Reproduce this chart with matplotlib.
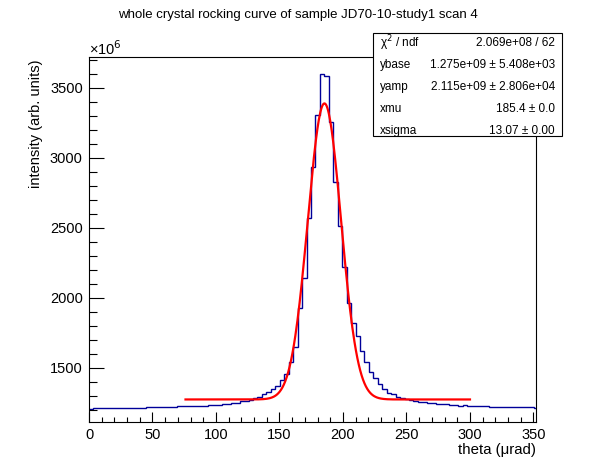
import numpy as np
import matplotlib
matplotlib.use("Agg")
import matplotlib.pyplot as plt
from matplotlib.ticker import MultipleLocator

plt.rcParams['font.family'] = ['Liberation Sans', 'DejaVu Sans']

# histogram binning (theta in urad): a short first bin, then 3.51 urad steps
bin_edges = np.r_[0.0, np.arange(2.8, 351.0, 3.51), 352.0]

# intensity per bin, in units of 1e6
intensity = [
    1205,
    1216, 1216, 1216, 1216, 1216, 1216, 1216, 1216, 1216, 1216, 1216, 1216,
    1223, 1223, 1223, 1223, 1223, 1223, 1223,
    1231,
    1226, 1226, 1226, 1226, 1226, 1226,
    1233, 1233, 1233,
    1243, 1243, 1248, 1252, 1262, 1265, 1271, 1283, 1295, 1312,
    1331, 1348, 1373, 1414, 1455, 1541, 1652, 1931, 2141, 2574,
    2936, 3307, 3598, 3586, 3259, 2829, 2514, 2224, 1962, 1819,
    1729, 1624, 1541, 1469, 1426, 1384, 1348, 1324, 1312, 1295,
    1285, 1280, 1274, 1266, 1259, 1255, 1252, 1249, 1245, 1243,
    1240, 1237, 1236, 1231, 1235, 1230,
    1229, 1229, 1229, 1229,
    1222, 1222, 1222, 1222, 1222, 1222, 1222, 1222, 1222, 1222,
    1214,
]

# fit results (gaussian on a flat base), amplitudes in 1e6
ybase = 1275.0
yamp = 2115.0
xmu = 185.4
xsigma = 13.07
fit_range = (76.0, 300.0)

stat_labels = ["χ$^{2}$ / ndf", "ybase", "yamp", "xmu", "xsigma"]
stat_values = ["2.069e+08 / 62", "1.275e+09 ± 5.408e+03",
               "2.115e+09 ± 2.806e+04", "185.4 ± 0.0", "13.07 ± 0.00"]

W, H = 596, 472
fig = plt.figure(figsize=(W / 100, H / 100), dpi=100)
ax = fig.add_axes([89 / W, 1 - 422 / H, (536 - 89) / W, (422 - 56.5) / H])

ax.stairs(intensity, bin_edges, baseline=None, color='#000099', linewidth=1.0)

xf = np.linspace(fit_range[0], fit_range[1], 400)
yf = ybase + yamp * np.exp(-0.5 * ((xf - xmu) / xsigma) ** 2)
ax.plot(xf, yf, color='red', linewidth=1.6)

ax.set_xlim(0, 352)
ax.set_ylim(1114, 3725)
ax.xaxis.set_major_locator(MultipleLocator(50))
ax.xaxis.set_minor_locator(MultipleLocator(10))
ax.yaxis.set_major_locator(MultipleLocator(500))
ax.yaxis.set_minor_locator(MultipleLocator(100))
ax.tick_params(axis='x', which='major', direction='in', length=7.2, width=0.8,
               labelsize=10.5, pad=4.5)
ax.tick_params(axis='x', which='minor', direction='in', length=3.6, width=0.8)
ax.tick_params(axis='y', which='major', direction='in', length=10.8, width=0.8,
               labelsize=10.5, pad=4.5)
ax.tick_params(axis='y', which='minor', direction='in', length=5.5, width=0.8)
for s in ax.spines.values():
    s.set_linewidth(0.8)

fig.text(298 / W, 1 - 15 / H,
         "whole crystal rocking curve of sample JD70-10-study1 scan 4",
         ha='center', va='center', fontsize=9.5)
fig.text(89 / W, 1 - 49 / H, "×10$^{6}$", ha='left', va='center', fontsize=10.5)
fig.text(36 / W, 1 - 60 / H, "intensity (arb. units)", rotation=90,
         ha='center', va='top', fontsize=10.5)
fig.text(536 / W, 1 - 450 / H, "theta (μrad)", ha='right', va='center',
         fontsize=10.8)

# stat box
bx0, bx1, by0, by1 = 372.7, 562, 33, 136
box = plt.Rectangle((bx0 / W, 1 - by1 / H), (bx1 - bx0) / W, (by1 - by0) / H,
                    transform=fig.transFigure, facecolor='white',
                    edgecolor='black', linewidth=0.8, zorder=5)
fig.patches.append(box)
row_y = [43, 64.7, 87, 109, 131]
for lab, val, yy in zip(stat_labels, stat_values, row_y):
    fig.text(380 / W, 1 - yy / H, lab, ha='left', va='center', fontsize=8.5,
             zorder=6)
    fig.text(555 / W, 1 - yy / H, val, ha='right', va='center', fontsize=8.5,
             zorder=6)

fig.savefig("out.png", dpi=100)
